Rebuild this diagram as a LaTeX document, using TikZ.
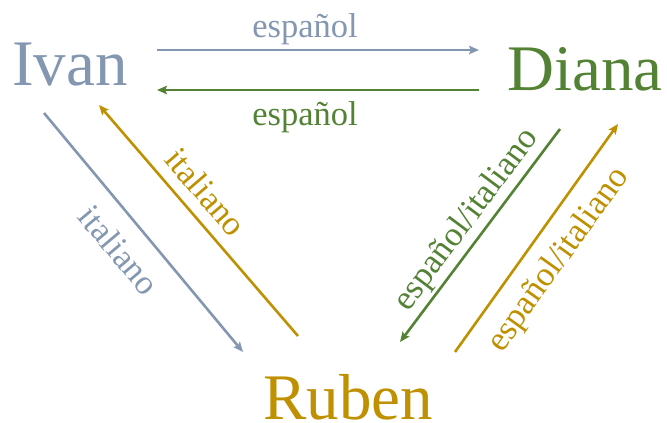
\documentclass[tikz,border=0pt]{standalone}
\usepackage{fontspec}
\setmainfont{Liberation Serif}
\usetikzlibrary{arrows.meta}
\definecolor{ivanc}{HTML}{8497B0}
\definecolor{dianac}{HTML}{548235}
\definecolor{rubenc}{HTML}{BF9000}
\tikzset{
  person/.style={inner sep=0pt, anchor=base, font=\fontsize{65}{70}\selectfont},
  lang/.style={inner sep=0pt, font=\fontsize{34.5}{38}\selectfont},
  conn/.style={line width=2.6pt, -{Stealth[length=10pt,width=8.5pt,inset=2pt]}},
}
\begin{document}
\begin{tikzpicture}[x=1pt,y=-1pt]
\useasboundingbox (0,0) rectangle (667,423);
% people
\node[person, text=ivanc]  (ivan)  at (70,85)   {Ivan};
\node[person, text=dianac] (diana) at (585,90)  {Diana};
\node[person, text=rubenc] (ruben) at (348,419) {Ruben};
% connector end points
\coordinate (ivD1) at (157,50);  \coordinate (ivD2) at (479,50);
\coordinate (diI1) at (479,90);  \coordinate (diI2) at (157,90);
\coordinate (ivR1) at (44,113);  \coordinate (ivR2) at (243,352);
\coordinate (ruI1) at (298,336); \coordinate (ruI2) at (99,105);
\coordinate (diR1) at (560,129); \coordinate (diR2) at (400,342);
\coordinate (ruD1) at (455,352); \coordinate (ruD2) at (618,124);
% connectors
\draw[conn, ivanc]  (ivD1) -- (ivD2);
\draw[conn, dianac] (diI1) -- (diI2);
\draw[conn, ivanc]  (ivR1) -- (ivR2);
\draw[conn, rubenc] (ruI1) -- (ruI2);
\draw[conn, dianac] (diR1) -- (diR2);
\draw[conn, rubenc] (ruD1) -- (ruD2);
% labels
\node[lang, text=ivanc, anchor=base]  (l1) at (305,37)  {español};
\node[lang, text=dianac, anchor=base] (l2) at (305,125) {español};
\node[lang, text=ivanc, rotate=-50]   (l3) at (119,250) {italiano};
\node[lang, text=rubenc, rotate=-49.3] (l4) at (206,192) {italiano};
\node[lang, text=dianac, rotate=53.1] (l5) at (467,220) {español/italiano};
\node[lang, text=rubenc, rotate=54.4] (l6) at (559,260) {español/italiano};
\end{tikzpicture}
\end{document}
